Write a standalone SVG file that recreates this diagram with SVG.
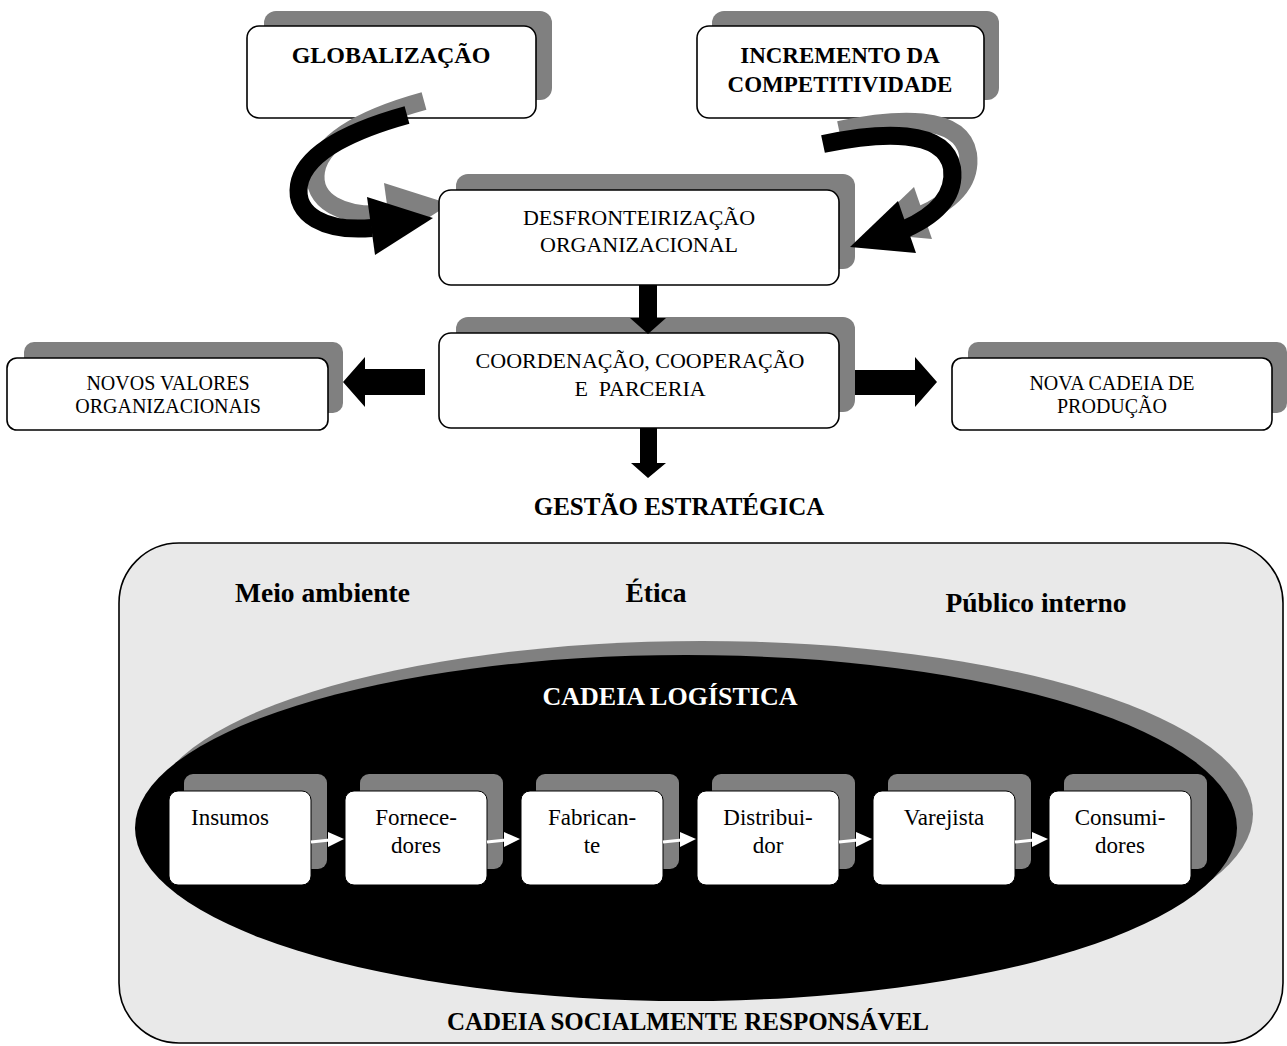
<svg xmlns="http://www.w3.org/2000/svg" width="1287" height="1046" viewBox="0 0 1287 1046">
<style>
.sh{fill:#808080}
.bx{fill:#fff;stroke:#000;stroke-width:1.6}
.sb{fill:#fff;stroke:#000;stroke-width:1}
.t{font-family:"Liberation Serif","Times New Roman",serif;fill:#000;text-anchor:middle}
.b{font-weight:bold}
.wa{stroke:#fff;stroke-width:3;fill:none}
</style>
<rect x="0" y="0" width="1287" height="1046" fill="#fff"/>

<g id="globalizacao">
<rect class="sh" x="264" y="11" width="288" height="89" rx="12"/>
<rect class="bx" x="247" y="26" width="289" height="92" rx="12"/>
<text class="t b" x="391" y="63" font-size="24">GLOBALIZAÇÃO</text>
</g>
<g id="incremento">
<rect class="sh" x="712" y="11" width="287" height="89" rx="12"/>
<rect class="bx" x="697" y="26" width="287" height="92" rx="12"/>
<text class="t b" x="840" y="63" font-size="23">INCREMENTO DA</text>
<text class="t b" x="840" y="92" font-size="23">COMPETITIVIDADE</text>
</g>

<g id="curved-shadows" class="sh">
<path d="M 424 101 C 377 114, 322 136, 316 171 C 311 201, 342 218, 389 214" fill="none" stroke="#808080" stroke-width="18"/>
<polygon points="384,183 450,204 392,241"/>
<path d="M 839 130 C 896 118, 961 114, 968 154 C 972 184, 948 203, 921 215" fill="none" stroke="#808080" stroke-width="18"/>
<polygon points="914,187 866,233 932,239"/>
</g>

<g id="desfronteirizacao">
<rect class="sh" x="456" y="174" width="399" height="95" rx="12"/>
<rect class="bx" x="439" y="190" width="400" height="95" rx="12"/>
<text class="t" x="639" y="225" font-size="22">DESFRONTEIRIZAÇÃO</text>
<text class="t" x="639" y="252" font-size="22">ORGANIZACIONAL</text>
</g>
<g id="coordenacao">
<rect class="sh" x="456" y="317" width="399" height="95" rx="12"/>
<rect class="bx" x="439" y="333" width="400" height="95" rx="12"/>
<text class="t" x="640" y="368" font-size="22">COORDENAÇÃO, COOPERAÇÃO</text>
<text class="t" x="640" y="396" font-size="22">E&#160; PARCERIA</text>
</g>
<g id="novos-valores">
<rect class="sh" x="24" y="342" width="319" height="71" rx="10"/>
<rect class="bx" x="7" y="358" width="321" height="72" rx="10"/>
<text class="t" x="168" y="390" font-size="20">NOVOS VALORES</text>
<text class="t" x="168" y="413" font-size="20">ORGANIZACIONAIS</text>
</g>
<g id="nova-cadeia">
<rect class="sh" x="968" y="342" width="319" height="71" rx="10"/>
<rect class="bx" x="952" y="358" width="320" height="72" rx="10"/>
<text class="t" x="1112" y="390" font-size="20">NOVA CADEIA DE</text>
<text class="t" x="1112" y="413" font-size="20">PRODUÇÃO</text>
</g>

<g id="connectors">
<path d="M 407 115 C 360 128, 305 150, 299 185 C 294 215, 325 232, 372 228" fill="none" stroke="#000" stroke-width="18"/>
<polygon points="367,197 433,218 375,255" fill="#000"/>
<path d="M 823 144 C 880 132, 945 128, 952 168 C 956 198, 932 217, 905 229" fill="none" stroke="#000" stroke-width="18"/>
<polygon points="898,201 850,247 916,253" fill="#000"/>
<polygon points="639,285 657,285 657,318 666,318 648,334 630,318 639,318" fill="#000"/>
<polygon points="640,428 657,428 657,463 666,463 648,478 631,463 640,463" fill="#000"/>
<polygon points="425,369 365,369 365,357 343,382 365,407 365,395 425,395" fill="#000"/>
<polygon points="855,370 915,370 915,357 937,382 915,407 915,395 855,395" fill="#000"/>
</g>

<text id="gestao" class="t b" x="679" y="515" font-size="25">GESTÃO ESTRATÉGICA</text>

<g id="cadeia-socialmente">
<rect x="119" y="543" width="1164" height="500" rx="60" fill="#e9e9e9" stroke="#000" stroke-width="1.6"/>
<text class="t b" x="235" y="602" font-size="27.5" style="text-anchor:start">Meio ambiente</text>
<text class="t b" x="656" y="602" font-size="27.5">Ética</text>
<text class="t b" x="1036" y="612" font-size="27.5">Público interno</text>
<text class="t b" x="688" y="1030" font-size="25">CADEIA SOCIALMENTE RESPONSÁVEL</text>
</g>

<g id="cadeia-logistica">
<ellipse cx="702" cy="814" rx="551" ry="173" fill="#808080"/>
<ellipse cx="686" cy="828" rx="551" ry="173" fill="#000"/>
<text class="t b" x="670" y="705" font-size="26" style="fill:#fff">CADEIA LOGÍSTICA</text>
</g>

<g id="insumos">
<rect class="sh" x="184" y="774" width="143" height="95" rx="9"/>
<rect class="sb" x="169" y="791" width="142" height="94" rx="9"/>
<text class="t" x="191" y="825" font-size="23" style="text-anchor:start">Insumos</text>
</g>
<g id="fornecedores">
<rect class="sh" x="360" y="774" width="143" height="95" rx="9"/>
<rect class="sb" x="345" y="791" width="142" height="94" rx="9"/>
<text class="t" x="416" y="825" font-size="23">Fornece-</text>
<text class="t" x="416" y="853" font-size="23">dores</text>
</g>
<g id="fabricante">
<rect class="sh" x="536" y="774" width="143" height="95" rx="9"/>
<rect class="sb" x="521" y="791" width="142" height="94" rx="9"/>
<text class="t" x="592" y="825" font-size="23">Fabrican-</text>
<text class="t" x="592" y="853" font-size="23">te</text>
</g>
<g id="distribuidor">
<rect class="sh" x="712" y="774" width="143" height="95" rx="9"/>
<rect class="sb" x="697" y="791" width="142" height="94" rx="9"/>
<text class="t" x="768" y="825" font-size="23">Distribui-</text>
<text class="t" x="768" y="853" font-size="23">dor</text>
</g>
<g id="varejista">
<rect class="sh" x="888" y="774" width="143" height="95" rx="9"/>
<rect class="sb" x="873" y="791" width="142" height="94" rx="9"/>
<text class="t" x="944" y="825" font-size="23">Varejista</text>
</g>
<g id="consumidores">
<rect class="sh" x="1064" y="774" width="143" height="95" rx="9"/>
<rect class="sb" x="1049" y="791" width="142" height="94" rx="9"/>
<text class="t" x="1120" y="825" font-size="23">Consumi-</text>
<text class="t" x="1120" y="853" font-size="23">dores</text>
</g>

<g id="chain-connectors" fill="#fff">
<path class="wa" d="M 311 842 L 330 840"/><polygon points="328,832 344,839 328,847"/>
<path class="wa" d="M 487 842 L 506 840"/><polygon points="504,832 520,839 504,847"/>
<path class="wa" d="M 663 842 L 682 840"/><polygon points="680,832 696,839 680,847"/>
<path class="wa" d="M 839 842 L 858 840"/><polygon points="856,832 872,839 856,847"/>
<path class="wa" d="M 1015 842 L 1034 840"/><polygon points="1032,832 1048,839 1032,847"/>
</g>
</svg>
